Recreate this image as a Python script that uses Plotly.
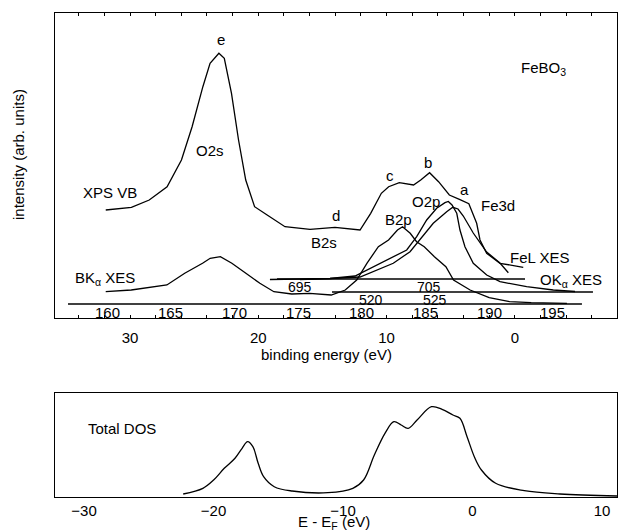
import plotly.graph_objects as go

# ---------------- data ----------------
# XPS valence band: binding energy (eV) vs intensity (arb.)
xps_be = [31.89, 29.89, 28.50, 27.11, 25.99, 25.16, 24.32, 23.76, 23.07, 22.65, 22.09, 21.54,
          20.98, 20.29, 19.31, 17.92, 15.97, 14.02, 12.07, 11.24, 10.41, 9.84, 9.01, 7.90,
          7.34, 6.65, 5.95, 5.11, 4.28, 3.59, 2.98, 2.72, 2.20, 1.16, -0.65]
xps_int = [108, 110.7, 118, 131.3, 158, 191.3, 231.3, 254.7, 264.7, 259.7, 224.7, 178,
           138, 111.3, 103, 91.3, 88.7, 90.7, 88, 104.7, 124.7, 131.3, 135.3, 133,
           138, 145.3, 136.3, 123, 118.3, 114.3, 94.7, 78, 64.7, 54.7, 50.7]

# B K-alpha XES: photon energy (eV)
bk_e = [159.9, 161.9, 164.7, 166.1, 167.5, 168.1, 168.9, 169.8, 170.9, 172.0, 173.1, 174.5,
        175.9, 177.6, 178.7, 179.6, 180.4, 181.3, 182.1, 182.8, 183.2, 183.8, 184.3, 184.9,
        185.7, 186.6, 187.2, 188.5, 190.0, 191.6, 193.3, 196.1]
bk_int = [26.3, 28, 33, 44.7, 54.7, 59.7, 61.3, 54.7, 44.7, 34.7, 26.3, 24,
          24.7, 23, 28, 38, 54.7, 71.3, 78, 88, 91.3, 84.7, 76.3, 71.3,
          61.3, 51.3, 38, 28, 20.3, 16.3, 15.3, 14.7]

# Fe L XES: photon energy (eV)
fel_e = [692.67, 695.0, 697.33, 699.65, 700.95, 702.23, 703.53, 704.30, 705.33, 706.37,
         706.84, 707.25, 707.66, 708.43, 709.47, 710.50, 711.15]
fel_int = [38.5, 39, 39.5, 41, 48, 54.7, 66.3, 78, 94.7, 106.3,
           110.7, 109, 102, 85, 66, 55, 45.3]

# O K-alpha XES: photon energy (eV)
ok_e = [514.45, 516.80, 518.75, 520.45, 521.74, 522.79, 523.57, 524.35, 525.13, 525.78,
        526.04, 526.33, 526.70, 526.95, 527.34, 527.99, 529.04, 530.08, 532.16, 534.24, 535.94]
ok_int = [38.5, 39.5, 42, 53, 61.3, 68, 81.3, 98, 109.7, 115.3,
          116.5, 113, 104.7, 88, 71.3, 54.7, 43, 36.3, 31.3, 28, 26.5]

# Total DOS: E - EF (eV)
dos_e = [-22.34, -20.82, -19.99, -19.17, -18.34, -17.79, -17.37, -16.96, -16.55, -16.13,
         -15.31, -13.93, -11.17, -9.24, -8.41, -7.58, -6.76, -6.07, -5.51, -4.97,
         -4.28, -3.17, -2.35, -1.51, -0.97, -0.42, 0.14, 0.69, 1.79, 4.0, 6.76, 11.16]
dos_val = [3, 8.7, 17, 28.7, 38.7, 48.7, 55.3, 50.3, 33.7, 20.3,
           10.3, 6, 4.3, 8.7, 17, 42, 63.7, 75.3, 72, 68.7,
           77, 90.3, 87.7, 82, 78.7, 60.3, 40.3, 27, 13.7, 6.3, 3, 1]

# energy-scale tick labels and scale bars
bk_ticks = [160, 165, 170, 175, 180, 185, 190, 195]
fel_ticks = [695, 705]
ok_ticks = [520, 525]
be_ticks = [30, 20, 10, 0]
dos_ticks = [-30, -20, -10, 0, 10]
ref_line_be = [18.54, -0.79]      # unlabeled reference line (binding energy)
fel_line_e = [697.48, 717.71]     # Fe L energy scale bar
ok_line_e = [496.33, 536.48]      # O K energy scale bar

# ---------------- layout helpers ----------------
W, H = 618, 531
ML, MR, MT, MB = 55, 1, 13, 34
PW, PH = W - ML - MR, H - MT - MB


def px(x):
    return (x - ML) / PW


def py(y):
    return (H - MB - y) / PH


FONT = "Liberation Sans, Arial, sans-serif"
FS = 15
LC = "black"
LW = 1.3

fig = go.Figure()
fig.add_trace(go.Scatter(x=xps_be, y=xps_int, mode="lines", line=dict(color=LC, width=LW),
                         xaxis="x", yaxis="y", showlegend=False))
fig.add_trace(go.Scatter(x=bk_e, y=bk_int, mode="lines", line=dict(color=LC, width=LW),
                         xaxis="x3", yaxis="y", showlegend=False))
fig.add_trace(go.Scatter(x=fel_e, y=fel_int, mode="lines", line=dict(color=LC, width=LW),
                         xaxis="x4", yaxis="y", showlegend=False))
fig.add_trace(go.Scatter(x=ok_e, y=ok_int, mode="lines", line=dict(color=LC, width=LW),
                         xaxis="x5", yaxis="y", showlegend=False))
# scale bars
fig.add_trace(go.Scatter(x=ref_line_be, y=[39, 39], mode="lines", line=dict(color=LC, width=LW),
                         xaxis="x", yaxis="y", showlegend=False))
fig.add_trace(go.Scatter(x=fel_line_e, y=[26, 26], mode="lines", line=dict(color=LC, width=LW),
                         xaxis="x4", yaxis="y", showlegend=False))
fig.add_trace(go.Scatter(x=ok_line_e, y=[14, 14], mode="lines", line=dict(color=LC, width=LW),
                         xaxis="x5", yaxis="y", showlegend=False))
# DOS
fig.add_trace(go.Scatter(x=dos_e, y=dos_val, mode="lines", line=dict(color=LC, width=LW, shape="spline"),
                         xaxis="x2", yaxis="y2", showlegend=False))

top_dom = [py(318), py(13)]
bot_dom = [py(497), py(393)]

be_left = 30 + (130 - ML) / 12.83
be_right = 30 - (W - MR - 130) / 12.83
bk_left = 160 - (107 - ML) / 12.74
bk_right = 160 + (W - MR - 107) / 12.74
fel_left = 695 - (300 - ML) / 12.9
fel_right = 695 + (W - MR - 300) / 12.9
ok_left = 520 - (371 - ML) / 12.8
ok_right = 520 + (W - MR - 371) / 12.8
dos_left = (ML - 472.5) / 12.95
dos_right = (W - MR - 472.5) / 12.95

axis_font = dict(family=FONT, size=FS, color="black")

fig.update_layout(
    width=W, height=H,
    margin=dict(l=ML, r=MR, t=MT, b=MB),
    paper_bgcolor="white", plot_bgcolor="white",
    font=axis_font,
    xaxis=dict(domain=[0, 1], range=[be_left, be_right], anchor="y",
               showline=True, mirror="allticks", linecolor=LC, linewidth=1,
               showgrid=False, zeroline=False,
               tickvals=be_ticks, ticks="inside", ticklen=3, tickcolor=LC,
               minor=dict(dtick=2, ticks="inside", ticklen=3, tickcolor=LC, showgrid=False),
               ticklabelstandoff=6, tickfont=axis_font),
    yaxis=dict(domain=top_dom, range=[0, 305], anchor="x",
               showline=True, mirror=True, linecolor=LC, linewidth=1,
               showgrid=False, zeroline=False, showticklabels=False, ticks=""),
    xaxis3=dict(overlaying="x", anchor="y", range=[bk_left, bk_right], visible=False),
    xaxis4=dict(overlaying="x", anchor="y", range=[fel_left, fel_right], visible=False),
    xaxis5=dict(overlaying="x", anchor="y", range=[ok_left, ok_right], visible=False),
    xaxis2=dict(domain=[0, 1], range=[dos_left, dos_right], anchor="y2",
                showline=True, mirror=True, linecolor=LC, linewidth=1,
                showgrid=False, zeroline=False,
                tickvals=dos_ticks, ticks="", tickfont=axis_font),
    yaxis2=dict(domain=bot_dom, range=[0, 104], anchor="x2",
                showline=True, mirror=True, linecolor=LC, linewidth=1,
                showgrid=False, zeroline=False, showticklabels=False, ticks=""),
)

ann = []


def label(text, x, y, size=FS, **kw):
    d = dict(text=text, x=px(x), y=py(y), xref="paper", yref="paper", showarrow=False,
             font=dict(family=FONT, size=size, color="black"), xanchor="center", yanchor="middle")
    d.update(kw)
    ann.append(d)


# energy scale tick labels (placed through their own axes)
for t in bk_ticks:
    ann.append(dict(text=str(t), x=t, y=5.5, xref="x3", yref="y", showarrow=False,
                    font=dict(family=FONT, size=FS, color="black"), borderpad=0))
for t in fel_ticks:
    ann.append(dict(text=str(t), x=t, y=31, xref="x4", yref="y", showarrow=False,
                    font=dict(family=FONT, size=FS - 1, color="black"), borderpad=0))
for t in ok_ticks:
    ann.append(dict(text=str(t), x=t, y=18, xref="x5", yref="y", showarrow=False,
                    font=dict(family=FONT, size=FS - 1, color="black"), borderpad=0))

label("e", 221, 40)
label("FeBO<sub>3</sub>", 543, 68)
label("O2s", 210, 150)
label("XPS VB", 110, 192)
label("c", 390, 175)
label("b", 428, 163)
label("a", 464, 190)
label("Fe3d", 498, 206)
label("O2p", 426, 201)
label("d", 336, 215)
label("B2s", 324, 242)
label("B2p", 398, 220)
label("FeL XES", 539, 257)
label("OK<sub>α</sub> XES", 571, 280)
label("BK<sub>α</sub> XES", 105, 278)
label("intensity (arb. units)", 18, 155, textangle=-90)
label("binding energy (eV)", 326, 354)
label("Total DOS", 122, 428)
label("E - E<sub>F</sub> (eV)", 334, 522)

fig.update_layout(annotations=ann)
fig.write_html("out.html")
